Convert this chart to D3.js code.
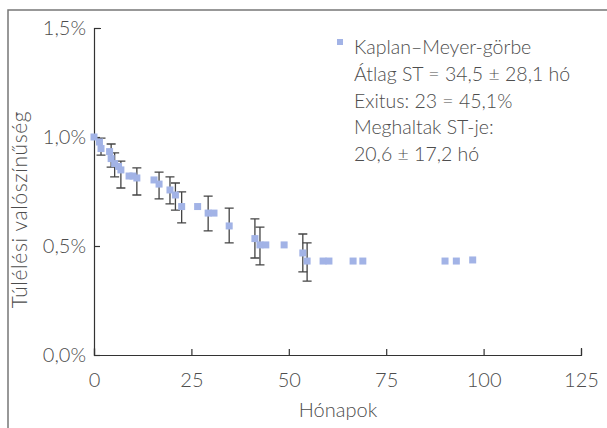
<!DOCTYPE html>
<html>
<head>
<meta charset="utf-8">
<script src="https://cdn.jsdelivr.net/npm/d3@7"></script>
<style>
  body { margin: 0; background: #fff; }
  svg { display: block; font-family: Lato, "Open Sans", sans-serif; font-weight: 300; }
</style>
</head>
<body>
<div id="chart"></div>
<script>
// Kaplan–Meyer survival estimate (months, survival in %)
const months = [0, 1.4, 1.8, 4.0, 4.4, 5.3, 6.3, 6.9, 9.0, 10.0, 11.0, 15.4, 16.7, 19.5, 20.9, 22.5, 26.6, 29.3, 30.8, 34.7, 41.3, 42.6, 44.1, 48.8, 53.6, 54.7, 58.8, 60.3, 66.5, 69.0, 90.1, 93.0, 97.2]
const survival = [1.0, 0.977, 0.947, 0.933, 0.901, 0.878, 0.865, 0.849, 0.821, 0.821, 0.812, 0.803, 0.784, 0.757, 0.734, 0.681, 0.681, 0.651, 0.651, 0.592, 0.534, 0.505, 0.505, 0.505, 0.468, 0.431, 0.431, 0.431, 0.431, 0.431, 0.431, 0.431, 0.436]
// confidence interval ends, null where no bar is drawn
const upper = [null, null, 0.995, null, 0.968, 0.927, null, 0.889, null, null, 0.858, null, 0.839, 0.817, 0.789, 0.748, null, 0.729, null, 0.674, 0.624, 0.587, null, null, 0.555, 0.514, null, null, null, null, null, null, null]
const lower = [null, null, 0.917, null, 0.862, 0.817, null, 0.766, null, null, 0.734, null, 0.716, 0.693, 0.665, 0.606, null, 0.569, null, 0.514, 0.445, 0.413, null, null, 0.381, 0.339, null, null, null, null, null, null, null]

const xTicks = [0, 25, 50, 75, 100, 125]
const yTicks = [0, 0.5, 1.0, 1.5]
const legendLines = ["Kaplan–Meyer-görbe", "Átlag ST = 34,5 ± 28,1 hó", "Exitus: 23 = 45,1%", "Meghaltak ST-je:", "20,6 ± 17,2 hó"]

const width = 607
const height = 428
const textColor = "#4d4d4d"
const axisColor = "#333"
const pointColor = "#a2b3e6"

const svg = d3.select("#chart")
  .append("svg")
  .attr("width", width)
  .attr("height", height)

// outer frame
svg.append("path")
  .attr("d", `M8,${height} V10 H${width}`)
  .attr("fill", "none")
  .attr("stroke", "#777")
  .attr("stroke-width", 1.5)

const x = d3.scaleLinear().domain([0, 125]).range([94, 581])
const y = d3.scaleLinear().domain([0, 1.5]).range([355, 28])

// axes
const xAxis = svg.append("g")
  .attr("transform", `translate(0,${y(0)})`)
  .call(d3.axisBottom(x).tickValues(xTicks).tickSizeInner(-6).tickSizeOuter(-7).tickPadding(18))

const yAxis = svg.append("g")
  .attr("transform", `translate(${x(0)},0)`)
  .call(d3.axisLeft(y).tickValues(yTicks).tickSizeInner(-6).tickSizeOuter(-7).tickPadding(8)
    .tickFormat(d => d.toFixed(1).replace(".", ",") + "%"))

for (const ax of [xAxis, yAxis]) {
  ax.select(".domain").attr("stroke", axisColor).attr("stroke-width", 1.2)
  ax.selectAll(".tick line").attr("stroke", axisColor).attr("stroke-width", 1.2)
  ax.selectAll(".tick text")
    .attr("fill", textColor)
    .style("font-family", "Lato, 'Open Sans', sans-serif")
    .style("font-weight", 300)
    .style("font-size", "20px")
}

// axis titles
svg.append("text")
  .attr("x", 338)
  .attr("y", 417)
  .attr("text-anchor", "middle")
  .attr("fill", textColor)
  .style("font-size", "20px")
  .text("Hónapok")

svg.append("text")
  .attr("transform", `translate(27,${y(0.75) + 18}) rotate(-90)`)
  .attr("text-anchor", "middle")
  .attr("fill", textColor)
  .style("font-size", "21px")
  .style("letter-spacing", "0.6px")
  .text("Túlélési valószínűség")

// error bars
const bars = months.map((m, i) => ({ m, hi: upper[i], lo: lower[i] })).filter(d => d.hi !== null)
const cap = 4.5
const barG = svg.append("g")
  .attr("stroke", "#444")
  .attr("stroke-width", 1.3)
  .attr("fill", "none")

barG.selectAll("path")
  .data(bars)
  .join("path")
  .attr("d", d => {
    const cx = x(d.m), y1 = y(d.hi), y2 = y(d.lo)
    return `M${cx - cap},${y1} H${cx + cap} M${cx},${y1} V${y2} M${cx - cap},${y2} H${cx + cap}`
  })

// survival points
const size = 7
svg.append("g")
  .selectAll("rect")
  .data(months.map((m, i) => ({ m, s: survival[i] })))
  .join("rect")
  .attr("x", d => x(d.m) - size / 2)
  .attr("y", d => y(d.s) - size / 2)
  .attr("width", size)
  .attr("height", size)
  .attr("fill", pointColor)

// legend
svg.append("rect")
  .attr("x", 337)
  .attr("y", 39)
  .attr("width", 6)
  .attr("height", 6)
  .attr("fill", pointColor)

svg.append("text")
  .attr("fill", textColor)
  .style("font-size", "19.5px")
  .selectAll("tspan")
  .data(legendLines)
  .join("tspan")
  .attr("x", 354)
  .attr("y", (d, i) => 54 + i * 26.8)
  .text(d => d)
</script>
</body>
</html>
